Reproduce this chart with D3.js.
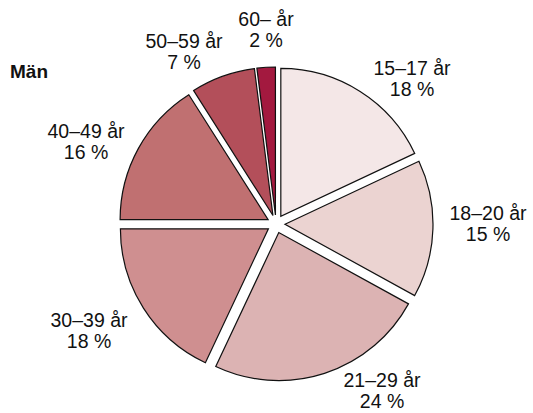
<!DOCTYPE html>
<html>
<head>
<meta charset="utf-8">
<script src="https://cdn.jsdelivr.net/npm/d3@7"></script>
<style>
  body { margin: 0; background: #fff; }
  text { font-family: "Liberation Sans", Arial, Helvetica, sans-serif; fill: #111; }
</style>
</head>
<body>
<div id="chart"></div>
<script>
// age groups, share in percent (Män)
var groups = ["15–17 år", "18–20 år", "21–29 år", "30–39 år", "40–49 år", "50–59 år", "60– år"];
var shares = [18, 15, 24, 18, 16, 7, 2];
var colors = ["#f4e7e7", "#ebd3d1", "#dcb3b3", "#cf8f90", "#c07071", "#b34f5a", "#a3193f"];
// label anchor offsets from pie centre (hand placed like in the original)
var labelOffsets = [[136, -149], [212, -4], [106, 163], [-187, 103], [-190, -86], [-92, -176], [-10, -198]];

var width = 533, height = 413;
var cx = 276, cy = 224, radius = 148, explode = 9;

var svg = d3.select("#chart").append("svg")
    .attr("width", width).attr("height", height);

svg.append("text")
    .attr("x", 10).attr("y", 78)
    .style("font-weight", "bold")
    .style("font-size", "19px")
    .text("Män");

var pie = d3.pie().sort(null).value(d => d);
var arcs = pie(shares);

var arc = d3.arc().innerRadius(0).outerRadius(radius);

var g = svg.append("g").attr("transform", `translate(${cx},${cy})`);

g.selectAll("path")
  .data(arcs)
  .join("path")
    .attr("transform", d => {
      var a = (d.startAngle + d.endAngle) / 2;
      return `translate(${explode * Math.sin(a)},${-explode * Math.cos(a)})`;
    })
    .attr("d", arc)
    .attr("fill", (d, i) => colors[i])
    .attr("stroke", "#111")
    .attr("stroke-width", 1.2)
    .attr("stroke-linejoin", "miter");

var labels = g.selectAll("text.lbl")
  .data(arcs)
  .join("text")
    .attr("class", "lbl")
    .attr("text-anchor", "middle")
    .attr("transform", (d, i) => `translate(${labelOffsets[i][0]},${labelOffsets[i][1]})`)
    .style("font-size", "19.5px");

labels.append("tspan").attr("x", 0).attr("y", 0).text((d, i) => groups[i]);
labels.append("tspan").attr("x", 0).attr("y", 21.2).text((d, i) => shares[i] + " %");
</script>
</body>
</html>
